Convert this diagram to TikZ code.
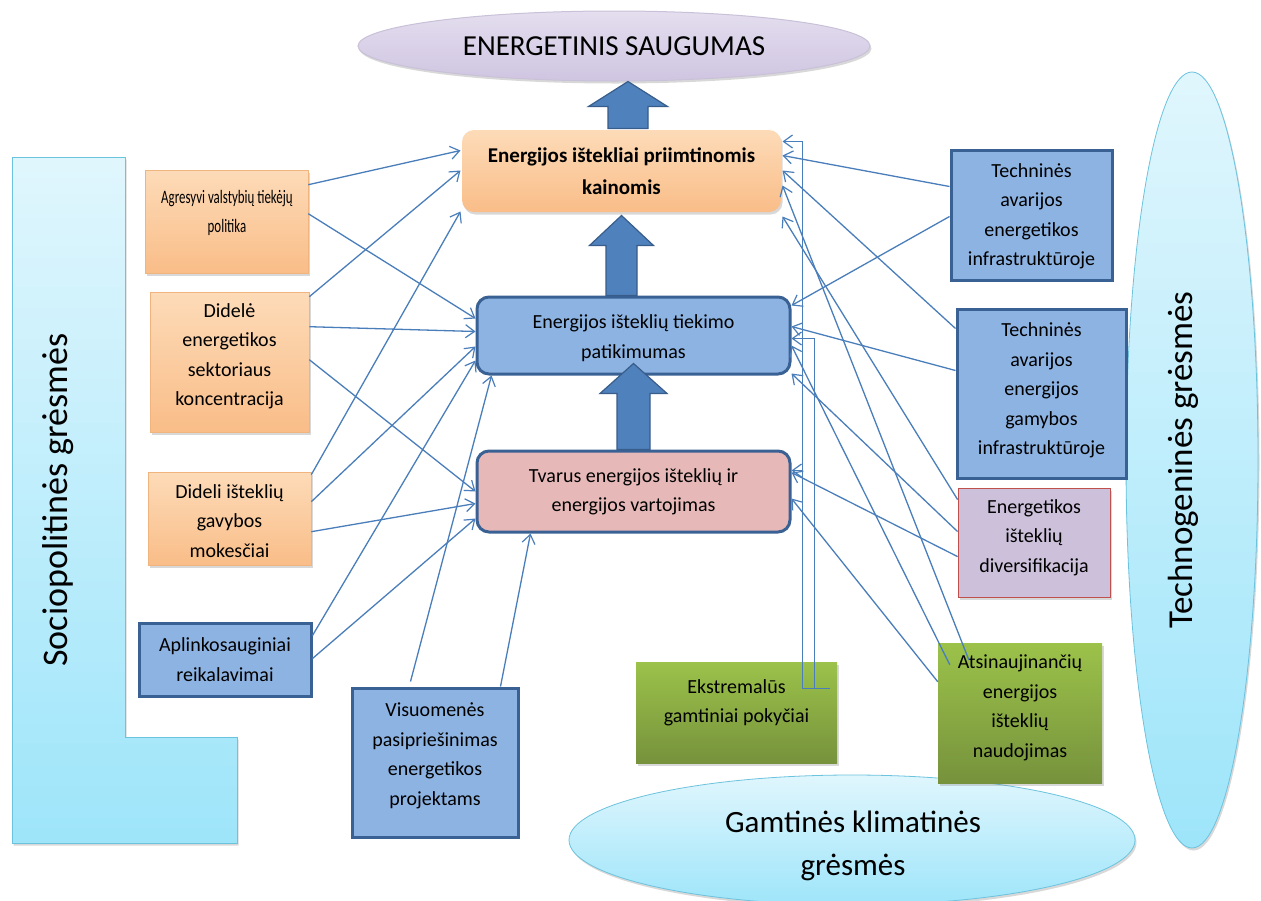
\documentclass[tikz,border=0pt]{standalone}
\usepackage{fontspec}
\setmainfont{Carlito}
\newfontfamily\narrowfont{Carlito}[FakeStretch=0.68]
\usetikzlibrary{shapes.geometric,arrows.meta,shadows,calc}
\definecolor{conncol}{HTML}{4A7EBB}
\definecolor{orTop}{HTML}{FDDBB8}
\definecolor{orBot}{HTML}{F9BD88}
\definecolor{orEdge}{HTML}{F0B47E}
\definecolor{blueFill}{HTML}{8DB3E2}
\definecolor{blueEdge}{HTML}{3A6194}
\definecolor{pinkFill}{HTML}{E6B9B8}
\definecolor{lavFill}{HTML}{CCC0DA}
\definecolor{lavEdge}{HTML}{C0504D}
\definecolor{grTop}{HTML}{9CC24A}
\definecolor{grBot}{HTML}{76923C}
\definecolor{arrFill}{HTML}{4F81BD}
\definecolor{arrEdge}{HTML}{385D8A}
\definecolor{cyTop}{HTML}{E0F6FD}
\definecolor{cyBot}{HTML}{9EE5FA}
\definecolor{cyEdge}{HTML}{6CC3DE}
\definecolor{puTop}{HTML}{E4DEEF}
\definecolor{puBot}{HTML}{CFC5E1}
\definecolor{puEdge}{HTML}{C9C1D8}
\tikzset{
  conn/.style={draw=conncol, line width=1.3pt, -{Straight Barb[length=9pt,width=13pt,line width=1.2pt]}},
  sh/.style={drop shadow={shadow xshift=1.5pt,shadow yshift=-2.5pt,opacity=0.3}},
  orangebox/.style={rectangle, top color=orTop, bottom color=orBot, draw=orEdge, line width=0.6pt, sh},
  bluebox/.style={rectangle, fill=blueFill, draw=blueEdge, line width=3pt},
  greenbox/.style={rectangle, top color=grTop, bottom color=grBot, draw=none, sh},
  lavbox/.style={rectangle, fill=lavFill, draw=lavEdge, line width=0.8pt, sh},
  mainbox/.style={rectangle, rounded corners=12pt, line width=3pt, draw=blueEdge},
  txt/.style={align=center, font=\fontsize{20}{29.5}\selectfont, inner sep=0pt},
  bigarrow/.style={fill=arrFill, draw=arrEdge, line width=1.2pt, line join=miter},
  cyshape/.style={top color=cyTop, bottom color=cyBot, draw=cyEdge, line width=0.8pt},
}
\begin{document}
\begin{tikzpicture}[x=1pt,y=-1pt]
\clip (0,0) rectangle (1261,900);
\fill[white] (0,0) rectangle (1261,900);

% background groups
\filldraw[cyshape, sh] (12,157) -- (125,157) -- (125,737) -- (237,737) -- (237,843) -- (12,843) -- cycle;
\node[rotate=90, font=\fontsize{36}{40}\selectfont, inner sep=0pt] (SPt) at (58,500) {Sociopolitinės grėsmės};

\node[ellipse, cyshape, sh, minimum width=132pt, minimum height=776pt, inner sep=0pt] (TG) at (1192,460) {};
\node[rotate=90, font=\fontsize{35}{40}\selectfont, inner sep=0pt] (TGt) at (1183,460) {Technogeninės grėsmės};

\node[ellipse, cyshape, sh, minimum width=566pt, minimum height=130pt, inner sep=0pt] (GK) at (852,840) {};
\node[align=center, inner sep=0pt, font=\fontsize{31}{43}\selectfont] (GKt) at (853,846) {Gamtinės klimatinės\\grėsmės};

\node[ellipse, top color=puTop, bottom color=puBot, draw=puEdge, line width=1pt, sh,
      minimum width=512pt, minimum height=70pt, inner sep=0pt, font=\fontsize{29}{32}\selectfont] (E0) at (614,46) {ENERGETINIS SAUGUMAS};

% central boxes
\node[mainbox, top color=orTop, bottom color=orBot, draw=none, sh, minimum width=319pt, minimum height=82pt] (B1) at (621.5,171) {};
\node[txt, font=\bfseries\fontsize{21}{32}\selectfont] (B1t) at (621.5,171) {Energijos ištekliai priimtinomis\\kainomis};
\node[mainbox, fill=blueFill, minimum width=313pt, minimum height=77pt] (B2) at (633.5,335.5) {};
\node[txt] (B2t) at (633.5,338) {Energijos išteklių tiekimo\\patikimumas};
\node[mainbox, fill=pinkFill, minimum width=313pt, minimum height=81pt] (B3) at (633.5,491.5) {};
\node[txt] (B3t) at (633.5,492) {Tvarus energijos išteklių ir\\energijos vartojimas};

% left boxes
\node[orangebox, minimum width=163pt, minimum height=103pt] (A) at (226.5,221.5) {};
\node[txt, font=\narrowfont\fontsize{19}{29}\selectfont] (At-t) at (227,212.5) {Agresyvi valstybių tiekėjų\\politika};
\node[orangebox, minimum width=159pt, minimum height=140pt] (B) at (229.5,362) {};
\node[txt] (Bt) at (229.5,356.5) {Didelė\\energetikos\\sektoriaus\\koncentracija};
\node[orangebox, minimum width=163pt, minimum height=93pt] (C) at (229.5,518.5) {};
\node[txt] (Ct) at (229.5,521) {Dideli išteklių\\gavybos\\mokesčiai};
\node[bluebox, minimum width=172pt, minimum height=73pt] (D) at (225,659.5) {};
\node[txt] (Dt) at (225,659.5) {Aplinkosauginiai\\reikalavimai};
\node[bluebox, minimum width=166pt, minimum height=149pt] (V) at (435,762.5) {};
\node[txt] (Vt) at (435,756) {Visuomenės\\pasipriešinimas\\energetikos\\projektams};

% right boxes
\node[bluebox, minimum width=161pt, minimum height=130pt] (T1) at (1031.5,215) {};
\node[txt] (T1t) at (1031.5,216.5) {Techninės\\avarijos\\energetikos\\infrastruktūroje};
\node[bluebox, minimum width=169pt, minimum height=169pt] (T2) at (1041.5,393.5) {};
\node[txt] (T2t) at (1041.5,390.5) {Techninės\\avarijos\\energijos\\gamybos\\infrastruktūroje};
\node[lavbox, minimum width=152pt, minimum height=109pt] (Dv) at (1034,542.5) {};
\node[txt] (Dvt) at (1034,537.5) {Energetikos\\išteklių\\diversifikacija};
\node[greenbox, minimum width=164pt, minimum height=140pt] (At) at (1020,713) {};
\node[txt] (Att) at (1020,708) {Atsinaujinančių\\energijos\\išteklių\\naudojimas};
\node[greenbox, minimum width=201pt, minimum height=101pt] (Ek) at (736.5,712.5) {};
\node[txt] (Ekt) at (736.5,703) {Ekstremalūs\\gamtiniai pokyčiai};

% big arrows
\filldraw[bigarrow] ($(B1.north)+(6.5,0)$) ++(-20,0) -- ++(0,-22) -- ++(-19.5,0) -- ++(39.5,-25) -- ++(39.5,25) -- ++(-19.5,0) -- ++(0,22) -- cycle;
\filldraw[bigarrow] ($(B2.north)+(-12,0)$) ++(-15.5,0) -- ++(0,-50) -- ++(-16.5,0) -- ++(32,-30) -- ++(32,30) -- ++(-16.5,0) -- ++(0,50) -- cycle;
\filldraw[bigarrow] ($(B3.north)+(0,0)$) ++(-16.5,0) -- ++(0,-56) -- ++(-17,0) -- ++(33.5,-30) -- ++(33.5,30) -- ++(-17,0) -- ++(0,56) -- cycle;

% left connectors
\draw[conn] ([yshift=-15pt]A.north east) -- ([yshift=-22pt]B1.north west);
\draw[conn] ([yshift=-44pt]A.north east) -- ([yshift=-23pt]B2.north west);
\draw[conn] ([yshift=-5pt]B.north east) -- ([yshift=-42pt]B1.north west);
\draw[conn] ([yshift=-35pt]B.north east) -- ([yshift=-36pt]B2.north west);
\draw[conn] ([yshift=-68pt]B.north east) -- ([yshift=-42pt]B3.north west);
\draw[conn] ([yshift=-3pt]C.north east) -- ([yshift=2pt]B1.south west);
\draw[conn] ([yshift=-30pt]C.north east) -- ([yshift=-51pt]B2.north west);
\draw[conn] ([yshift=-60pt]C.north east) -- ([yshift=-54pt]B3.north west);
\draw[conn] ([yshift=-14pt]D.north east) -- ([yshift=-65pt]B2.north west);
\draw[conn] ([yshift=-37pt]D.north east) -- ([yshift=-69pt]B3.north west);
\draw[conn] ([xshift=60pt,yshift=5pt]V.north west) -- ([xshift=16pt]B2.south west);
\draw[conn] ([xshift=150pt]V.north west) -- ([xshift=55pt]B3.south west);

% right connectors
\draw[conn] ([yshift=-38pt]T1.north west) -- ([yshift=-27pt]B1.north east);
\draw[conn] ([yshift=-68pt]T1.north west) -- ([yshift=-10pt]B2.north east);
\draw[conn] ([yshift=-21pt]T2.north west) -- ([yshift=-42pt]B1.north east);
\draw[conn] ([yshift=-63pt]T2.north west) -- ([yshift=-31pt]B2.north east);
\draw[conn] ([yshift=-12pt]Dv.north west) -- ([yshift=-3pt]B1.south east);
\draw[conn] ([yshift=-44pt]Dv.north west) -- ([yshift=2pt]B2.south east);
\draw[conn] ([yshift=-69pt]Dv.north west) -- ([yshift=-23pt]B3.north east);
\draw[conn] ([xshift=31pt,yshift=-17pt]At.north west) -- ([yshift=-57pt]B1.north east);
\draw[conn] ([xshift=12pt,yshift=-22pt]At.north west) -- ([yshift=-50pt]B2.north east);
\draw[conn] ([yshift=-39pt]At.north west) -- ([yshift=-49pt]B3.north east);

% Ekstremalus elbows
\coordinate (ekin) at ([xshift=-7pt,yshift=-27pt]Ek.north east);
\draw[conn] (ekin) -- ++(-28,0) |- ([yshift=-13pt]B1.north east);
\draw[conn] (ekin) ++(-28,0) |- ([yshift=-21pt]B3.north east);
\draw[conn] (ekin) -- ++(-16,0) |- ([yshift=-43pt]B2.north east);
\end{tikzpicture}
\end{document}
